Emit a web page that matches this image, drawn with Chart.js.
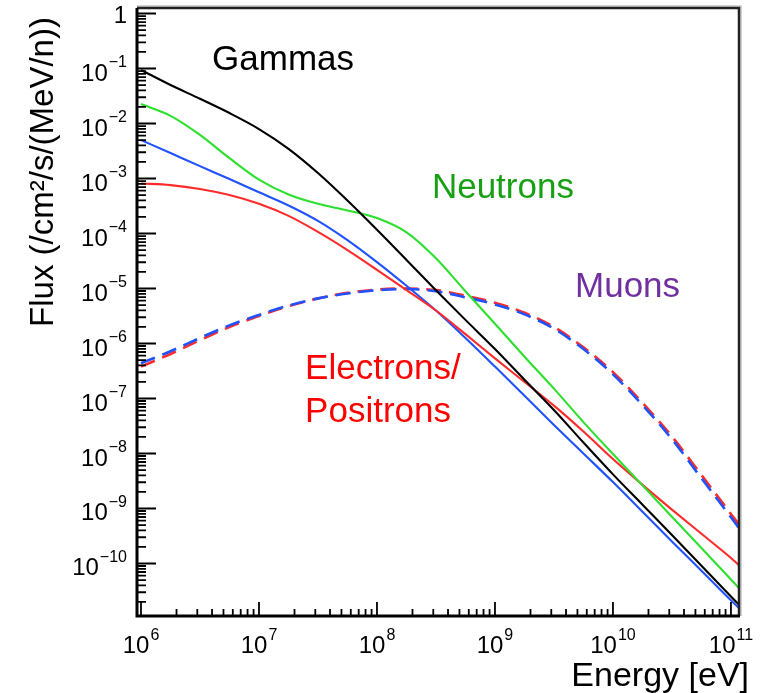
<!DOCTYPE html>
<html>
<head>
<meta charset="utf-8">
<script src="https://cdn.jsdelivr.net/npm/chart.js@4"></script>
<style>
  html, body { margin: 0; padding: 0; background: #fff; }
  #wrap { width: 760px; height: 693px; }
</style>
</head>
<body>
<div id="wrap"><canvas id="fluxChart" width="760" height="693"></canvas></div>
<script>
// energy grid [eV], quarter-decade steps up to the right edge
var energy = [1e6, 1.78e6, 3.16e6, 5.62e6, 1e7, 1.78e7, 3.16e7, 5.62e7, 1e8, 1.78e8, 3.16e8, 5.62e8,
  1e9, 1.78e9, 3.16e9, 5.62e9, 1e10, 1.78e10, 3.16e10, 5.62e10, 1e11, 1.17e11];

// flux /cm2/s/(MeV/n)
var gammas = [9.4e-2, 5.01e-2, 2.82e-2, 1.55e-2, 7.94e-3, 3.47e-3, 1.26e-3, 3.98e-4, 1.17e-4, 3.31e-5, 9.33e-6, 2.69e-6,
  7.94e-7, 2.19e-7, 6.17e-8, 1.58e-8, 4.17e-9, 1.17e-9, 3.31e-10, 9.12e-11, 2.51e-11, 1.78e-11];
var neutrons = [2.26e-2, 1.38e-2, 6.21e-3, 2.34e-3, 9.55e-4, 5.13e-4, 3.47e-4, 2.63e-4, 1.91e-4, 1.05e-4, 3.55e-5, 8.91e-6,
  2.29e-6, 5.75e-7, 1.51e-7, 3.72e-8, 9.77e-9, 2.63e-9, 7.08e-10, 1.91e-10, 5.13e-11, 3.55e-11];
var protons = [5.01e-3, 2.9e-3, 1.68e-3, 9.77e-4, 5.62e-4, 3.24e-4, 1.7e-4, 7.59e-5, 3.02e-5, 1.12e-5, 3.98e-6, 1.26e-6,
  3.8e-7, 1.12e-7, 3.31e-8, 1e-8, 3.02e-9, 8.71e-10, 2.51e-10, 7.41e-11, 2.14e-11, 1.55e-11];
var electrons = [8.13e-4, 7.59e-4, 6.46e-4, 5.01e-4, 3.47e-4, 2.09e-4, 1.07e-4, 5.01e-5, 2.19e-5, 9.33e-6, 3.98e-6, 1.48e-6,
  5.37e-7, 2e-7, 7.41e-8, 2.51e-8, 7.94e-9, 2.69e-9, 9.55e-10, 3.47e-10, 1.26e-10, 9.33e-11];
var muonsMinus = [4.37e-7, 7.24e-7, 1.26e-6, 2.14e-6, 3.31e-6, 4.9e-6, 6.61e-6, 8.13e-6, 9.33e-6, 9.77e-6, 8.91e-6, 6.92e-6,
  5.13e-6, 3.39e-6, 1.86e-6, 7.94e-7, 2.75e-7, 7.59e-8, 1.82e-8, 3.55e-9, 6.92e-10, 4.37e-10];
var muonsPlus = [3.8e-7, 6.46e-7, 1.15e-6, 2e-6, 3.16e-6, 4.79e-6, 6.61e-6, 8.32e-6, 9.55e-6, 1e-5, 9.33e-6, 7.41e-6,
  5.5e-6, 3.63e-6, 2e-6, 8.51e-7, 3.02e-7, 8.32e-8, 2.04e-8, 4.07e-9, 7.94e-10, 5.13e-10];

// axis labels
var xTickValues = [1e6, 1e7, 1e8, 1e9, 1e10, 1e11];
var xTickExps = ["6", "7", "8", "9", "10", "11"];
var yTickValues = [1, 1e-1, 1e-2, 1e-3, 1e-4, 1e-5, 1e-6, 1e-7, 1e-8, 1e-9, 1e-10];
var yTickExps = ["", "\u22121", "\u22122", "\u22123", "\u22124", "\u22125", "\u22126", "\u22127", "\u22128", "\u22129", "\u221210"];

// in-plot labels, anchored in data coordinates (left edge, baseline)
var plotLabels = [
  { text: "Gammas", color: "#000000", x: 4.0e6, y: 9.4e-2 },
  { text: "Neutrons", color: "#17a014", x: 2.92e8, y: 4.42e-4 },
  { text: "Muons", color: "#7030a0", x: 4.77e9, y: 7.0e-6 },
  { text: "Electrons/", color: "#ff0000", x: 2.46e7, y: 2.26e-7 },
  { text: "Positrons", color: "#ff0000", x: 2.46e7, y: 3.8e-8 }
];

var FONT = '"Liberation Sans", Arial, Helvetica, sans-serif';

function series(values) {
  return energy.map(function (e, i) { return { x: e, y: values[i] }; });
}

function line(values, color, dashed) {
  return {
    data: series(values),
    borderColor: color,
    borderWidth: dashed ? 2.6 : 2.1,
    borderDash: dashed ? [15, 8] : [],
    pointRadius: 0,
    fill: false,
    cubicInterpolationMode: "monotone"
  };
}

// ROOT-like frame: inward ticks, 10^n labels, axis titles
var rootFrame = {
  id: "rootFrame",
  afterDatasetsDraw: function (chart) {
    var ctx = chart.ctx, a = chart.chartArea;
    var xs = chart.scales.x, ys = chart.scales.y;
    ctx.save();

    // frame
    ctx.strokeStyle = "#c4c4c4";
    ctx.lineWidth = 1.5;
    ctx.beginPath();
    ctx.moveTo(a.left, a.top - 2);
    ctx.lineTo(a.right + 2, a.top - 2);
    ctx.lineTo(a.right + 2, a.bottom);
    ctx.stroke();
    ctx.strokeStyle = "#222";
    ctx.lineWidth = 2.5;
    ctx.beginPath();
    ctx.moveTo(a.left, a.top);
    ctx.lineTo(a.right, a.top);
    ctx.lineTo(a.right, a.bottom);
    ctx.stroke();
    ctx.strokeStyle = "#000";
    ctx.lineWidth = 3;
    ctx.beginPath();
    ctx.moveTo(a.left, a.top);
    ctx.lineTo(a.left, a.bottom);
    ctx.lineTo(a.right + 1, a.bottom);
    ctx.stroke();

    // ticks
    ctx.lineWidth = 1.8;
    ctx.beginPath();
    var d, m, v, p;
    for (d = 5; d <= 11; d++) {
      for (m = 1; m <= 9; m++) {
        v = m * Math.pow(10, d);
        if (v < xs.min || v > xs.max) continue;
        p = xs.getPixelForValue(v);
        ctx.moveTo(p, a.bottom);
        ctx.lineTo(p, a.bottom - (m === 1 ? 14 : 7));
      }
    }
    for (d = -12; d <= 0; d++) {
      for (m = 1; m <= 9; m++) {
        v = m * Math.pow(10, d);
        if (v < ys.min || v > ys.max) continue;
        p = ys.getPixelForValue(v);
        ctx.moveTo(a.left, p);
        ctx.lineTo(a.left + (m === 1 ? 19 : 9), p);
      }
    }
    ctx.stroke();

    // tick labels
    ctx.fillStyle = "#000";
    ctx.textBaseline = "alphabetic";
    var base = "24px " + FONT, sup = "16px " + FONT;
    xTickValues.forEach(function (val, i) {
      var px = xs.getPixelForValue(val);
      ctx.font = base;
      var w1 = ctx.measureText("10").width;
      ctx.font = sup;
      var w2 = ctx.measureText(xTickExps[i]).width;
      var x0 = px - (w1 + w2 + 1) / 2;
      ctx.textAlign = "left";
      ctx.font = base;
      ctx.fillText("10", x0, a.bottom + 37);
      ctx.font = sup;
      ctx.fillText(xTickExps[i], x0 + w1 + 1, a.bottom + 24);
    });
    yTickValues.forEach(function (val, i) {
      var py = ys.getPixelForValue(val);
      var right = a.left - 10;
      ctx.textAlign = "right";
      if (yTickExps[i] === "") {
        ctx.font = base;
        ctx.fillText("1", right, py + 9);
        return;
      }
      ctx.font = sup;
      var w2 = ctx.measureText(yTickExps[i]).width;
      ctx.fillText(yTickExps[i], right, py - 1.5);
      ctx.font = base;
      ctx.fillText("10", right - w2 - 1, py + 12);
    });

    // axis titles
    ctx.font = "34px " + FONT;
    ctx.textAlign = "right";
    ctx.fillText("Energy [eV]", 749, 686);
    ctx.save();
    ctx.translate(53, 172);
    ctx.rotate(-Math.PI / 2);
    ctx.textAlign = "center";
    ctx.font = "33px " + FONT;
    ctx.fillText("Flux (/cm\u00b2/s/(MeV/n))", 0, 0);
    ctx.restore();

    // curve labels
    ctx.font = "35px " + FONT;
    ctx.textAlign = "left";
    plotLabels.forEach(function (lb) {
      ctx.fillStyle = lb.color;
      ctx.fillText(lb.text, xs.getPixelForValue(lb.x), ys.getPixelForValue(lb.y));
    });

    ctx.restore();
  }
};

var ctx = document.getElementById("fluxChart").getContext("2d");
var fluxChart = new Chart(ctx, {
  type: "line",
  data: {
    datasets: [
      line(gammas, "#000000", false),
      line(neutrons, "#2ee02e", false),
      line(electrons, "#ff2b2b", false),
      line(protons, "#2152ff", false),
      line(muonsMinus, "#2152ff", true),
      line(muonsPlus, "#ff2b2b", true)
    ]
  },
  options: {
    responsive: false,
    animation: false,
    layout: {
      padding: { left: 137, top: 8, right: 21, bottom: 77 }
    },
    plugins: {
      legend: { display: false },
      tooltip: { enabled: false }
    },
    scales: {
      x: { type: "logarithmic", display: false, min: 9.25e5, max: 1.17e11 },
      y: { type: "logarithmic", display: false, min: 1.11e-11, max: 1.26 }
    }
  },
  plugins: [rootFrame]
});
</script>
</body>
</html>
